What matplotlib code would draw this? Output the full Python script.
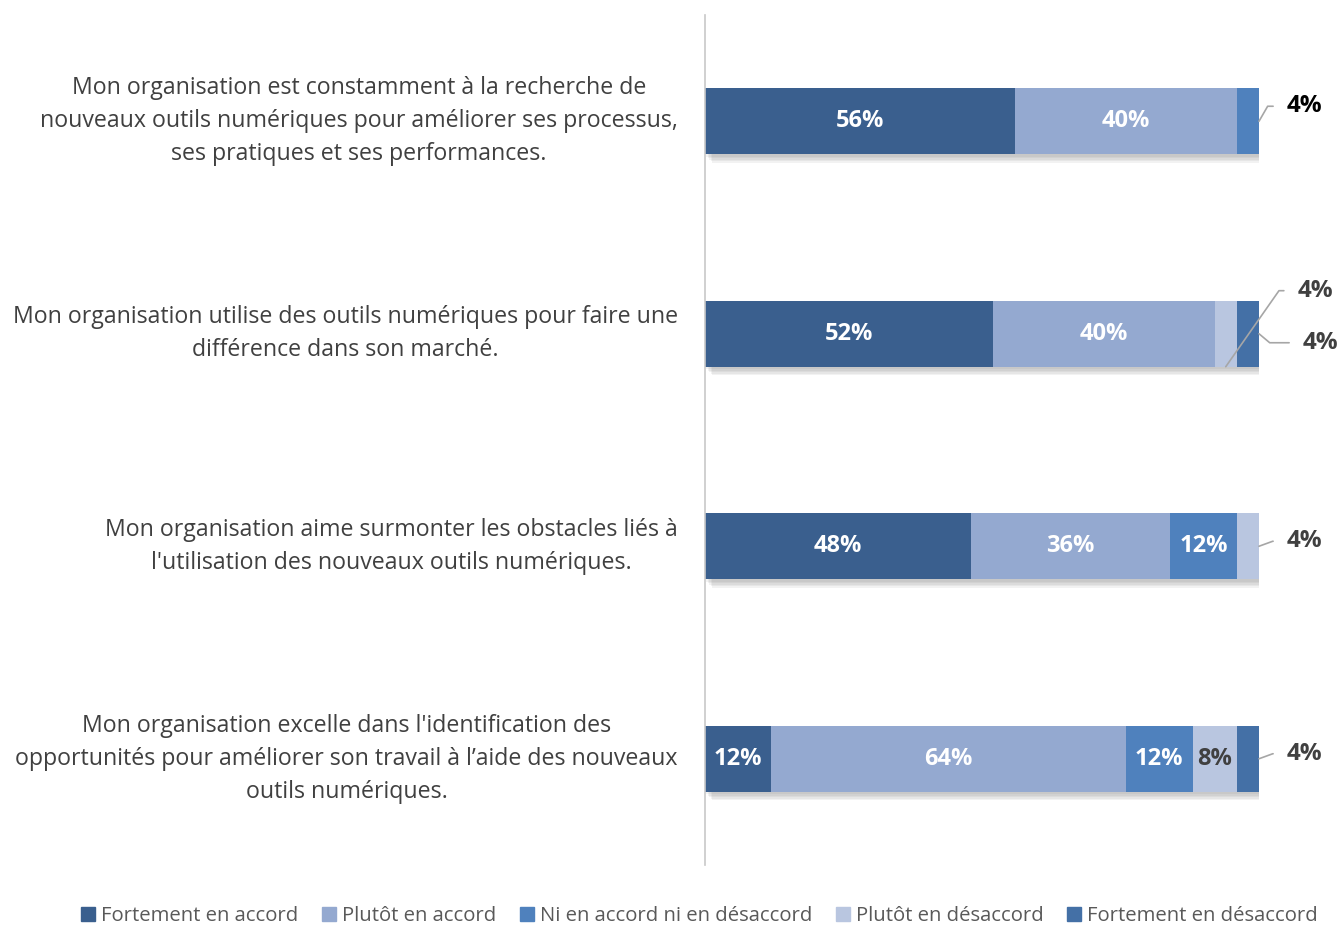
import numpy as np
import matplotlib.pyplot as plt
import matplotlib.patheffects as pe
from matplotlib.patches import Patch

plt.rcParams['font.family'] = ['Open Sans', 'DejaVu Sans']

categories = [
    "Mon organisation est constamment à la recherche de\nnouveaux outils numériques pour améliorer ses processus,\nses pratiques et ses performances.",
    "Mon organisation utilise des outils numériques pour faire une\ndifférence dans son marché.",
    "Mon organisation aime surmonter les obstacles liés à\nl'utilisation des nouveaux outils numériques.",
    "Mon organisation excelle dans l'identification des\nopportunités pour améliorer son travail à l’aide des nouveaux\noutils numériques.",
]
series = ["Fortement en accord", "Plutôt en accord", "Ni en accord ni en désaccord",
          "Plutôt en désaccord", "Fortement en désaccord"]
values = np.array([
    [56, 40, 4, 0, 0],
    [52, 40, 0, 4, 4],
    [48, 36, 12, 4, 0],
    [12, 64, 12, 8, 4],
])
colors = ["#3A5F8E", "#94A9D0", "#4F81BD", "#B9C6E0", "#4470A6"]
label_colors = ["white", "white", "white", "#404040", "white"]

# outside labels: (row, col) -> offset in px, leader angle at the bar, colour, anchor
outside = {
    (0, 2): ((28, 15), 60, "#000000", "edge"),
    (1, 3): ((72, 76), 55, "#404040", "bottom"),
    (1, 4): ((44, -9), -40, "#404040", "edge"),
    (2, 3): ((28, 5), 20, "#404040", "edge"),
    (3, 4): ((28, 5), 20, "#404040", "edge"),
}

fig = plt.figure(figsize=(13.4, 9.25), dpi=100)
ax = fig.add_axes([705 / 1340, 1 - 865 / 925, (1259 - 705) / 1340, 850 / 925])

y = np.arange(len(categories))
h = 0.31
left = np.zeros(len(categories))
# soft drop shadow, built from a few offset layers
shadow = [pe.SimplePatchShadow(offset=(k, -k - 1), shadow_rgbFace="#707070", alpha=0.09)
          for k in (5, 4, 3, 2, 1)] + [pe.Normal()]
for j, name in enumerate(series):
    bars = ax.barh(y, values[:, j], left=left, height=h, color=colors[j], zorder=2)
    for b in bars:
        b.set_path_effects(shadow)
    for i in range(len(categories)):
        v = values[i, j]
        if v == 0:
            continue
        cx = left[i] + v / 2
        if (i, j) in outside:
            off, ang, col, where = outside[(i, j)]
            if where == "edge":
                xy = (left[i] + v, y[i])
            else:
                xy = (cx, y[i] + h / 2)
            ax.annotate(f"{v}%", xy=xy, xytext=off, textcoords="offset pixels",
                        ha="left", va="center", fontsize=17.5, fontweight="bold", color=col,
                        annotation_clip=False,
                        arrowprops=dict(arrowstyle="-", color="#A6A6A6", lw=1.2,
                                        shrinkA=8, shrinkB=0,
                                        connectionstyle=f"angle,angleA=0,angleB={ang},rad=0"))
        else:
            ax.text(cx, y[i], f"{v}%", ha="center", va="center", fontsize=17,
                    fontweight="bold", color=label_colors[j], zorder=3)
    left += values[:, j]

ax.set_xlim(0, 100)
ax.set_ylim(len(categories) - 0.5, -0.5)
ax.set_xticks([])
ax.set_yticks([])
for s in ["top", "right", "bottom"]:
    ax.spines[s].set_visible(False)
ax.spines["left"].set_color("#C8C8C8")
ax.spines["left"].set_linewidth(1.2)

for i, c in enumerate(categories):
    yy = ax.transData.transform((0, y[i]))[1]
    fig.text(678 / 1340, yy / fig.bbox.height, c, ha="right", va="center",
             multialignment="center", fontsize=16.7, color="#404040", linespacing=1.5)

handles = [Patch(color=c) for c in colors]
fig.legend(handles, series, loc="center", bbox_to_anchor=(0.522, 1 - 916 / 925), ncol=5,
           frameon=False, fontsize=14.6, handlelength=0.7, handleheight=0.7,
           handletextpad=0.3, columnspacing=1.15, labelcolor="#595959")

fig.savefig("out.png", dpi=100)
